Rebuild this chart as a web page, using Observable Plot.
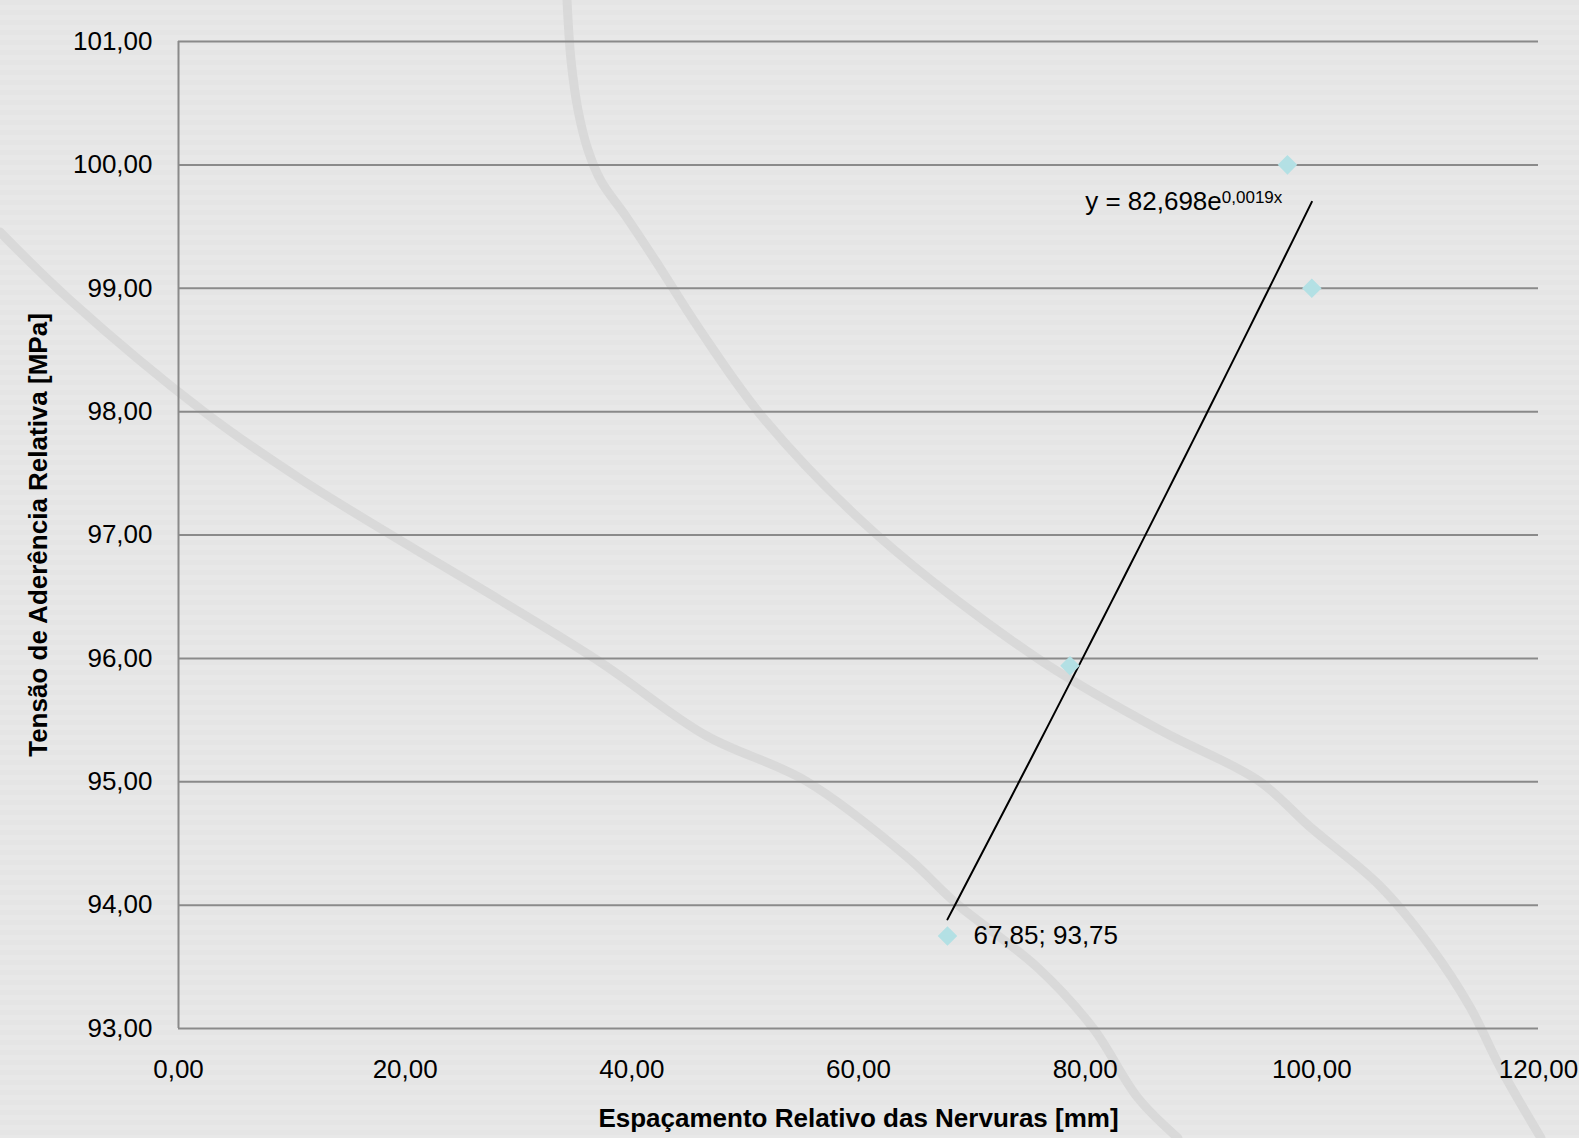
<!DOCTYPE html>
<html>
<head>
<meta charset="utf-8">
<script src="https://cdn.jsdelivr.net/npm/d3@7"></script>
<script src="https://cdn.jsdelivr.net/npm/@observablehq/plot@0.6"></script>
<style>
  html, body { margin: 0; padding: 0; }
  body {
    width: 1579px; height: 1138px; overflow: hidden; position: relative;
    background: repeating-linear-gradient(to bottom, #e5e5e5 0px, #e5e5e5 5px, #e8e8e8 5px, #e8e8e8 10px);
    font-family: "Liberation Sans", Arial, sans-serif;
  }
  #deco { position: absolute; left: 0; top: 0; }
  #chart { position: absolute; left: 0; top: 0; }
</style>
</head>
<body>
<svg id="deco" width="1579" height="1138"></svg>
<div id="chart"></div>
<script>
// ---- data ----
const espacamento = [67.85, 78.66, 97.85, 100.0];   // x, mm
const tensao      = [93.75, 95.94, 100.0, 99.0];    // y, MPa
const xTicks = [0, 20, 40, 60, 80, 100, 120];
const yTicks = [93, 94, 95, 96, 97, 98, 99, 100, 101];
const xLabel = "Espaçamento Relativo das Nervuras [mm]";
const yLabel = "Tensão de Aderência Relativa [MPa]";
const pointLabel = ["67,85; 93,75"];           // label for first point
const eqMain = ["y = 82,698e"];
const eqSup = "0,0019x";
const eqPos = [80.0, 99.70];

const points = espacamento.map((x, i) => ({x, y: tensao[i]}));

// exponential least-squares fit (ln y = ln a + b x), as the spreadsheet trendline
const mx = d3.mean(points, d => d.x);
const ml = d3.mean(points, d => Math.log(d.y));
const b = d3.sum(points, d => (d.x - mx) * (Math.log(d.y) - ml)) / d3.sum(points, d => (d.x - mx) ** 2);
const a = Math.exp(ml - b * mx);
const [x0, x1] = d3.extent(espacamento);
const fit = d3.range(0, 41).map(i => { const x = x0 + (x1 - x0) * i / 40; return {x, y: a * Math.exp(b * x)}; });

const fmt = d => d.toFixed(2).replace(".", ",");

// ---- decorative background (template artwork) ----
const deco = d3.select("#deco");
const curveA = [[567,0],[571,60],[578,110],[588,150],[601,181],[625,215],[655,260],[700,330],[765,420],[876,534],[1037,658],[1160,730],[1259,781],[1309,826],[1380,886],[1430,946],[1470,1007],[1500,1067],[1541,1138]];
const curveB = [[0,232],[70,300],[203,411],[302,480],[594,658],[705,735],[806,781],[906,856],[957,904],[1037,967],[1093,1028],[1138,1098],[1178,1138]];
const lg = d3.line().curve(d3.curveCatmullRom);
[curveA, curveB].forEach(c => deco.append("path").attr("d", lg(c)).attr("fill", "none")
  .attr("stroke", "#d9d9d9").attr("stroke-width", 9).attr("stroke-linecap", "round"));

// ---- chart ----
const chart = Plot.plot({
  width: 1579, height: 1138,
  marginLeft: 178, marginRight: 41, marginTop: 41, marginBottom: 110,
  style: {background: "transparent", fontFamily: "'Liberation Sans', Arial, sans-serif", fontSize: "26px", color: "#000", overflow: "visible"},
  x: {domain: [0, 120]},
  y: {domain: [93, 101]},
  marks: [
    Plot.ruleY(yTicks, {stroke: "#8a8a8a", strokeWidth: 2}),
    Plot.ruleX([0], {stroke: "#8a8a8a", strokeWidth: 2}),
    Plot.axisX(xTicks, {tickSize: 0, tickPadding: 31, tickFormat: fmt, label: null, fontSize: 26, fill: "#000"}),
    Plot.axisY(yTicks, {tickSize: 0, tickPadding: 26, tickFormat: fmt, label: null, fontSize: 26, fill: "#000"}),
    Plot.line(fit, {x: "x", y: "y", stroke: "#000", strokeWidth: 2}),
    Plot.dot(points, {x: "x", y: "y", symbol: "square", rotate: 45, r: 7.8, fill: "#b3e0e4", stroke: "none"}),
    Plot.text(pointLabel, {x: () => espacamento[0], y: () => tensao[0], text: d => d, textAnchor: "start", dx: 26, fontSize: 26, fill: "#000"}),
    Plot.text(eqMain, {x: () => eqPos[0], y: () => eqPos[1], text: d => d, textAnchor: "start", fontSize: 26, fill: "#000"}),
    Plot.text([xLabel], {frameAnchor: "bottom", dy: 98, text: d => d, fontWeight: "bold", fontSize: 26, fill: "#000"}),
    Plot.text([yLabel], {frameAnchor: "left", dx: -140, rotate: -90, textAnchor: "middle", text: d => d, fontWeight: "bold", fontSize: 26, fill: "#000"})
  ]
});
document.getElementById("chart").appendChild(chart);

// superscript exponent for the trendline equation
d3.select(chart).selectAll("text").filter(function() { return this.textContent === eqMain[0]; })
  .append("tspan").attr("dy", -7).attr("font-size", 17).text(eqSup);
</script>
</body>
</html>
